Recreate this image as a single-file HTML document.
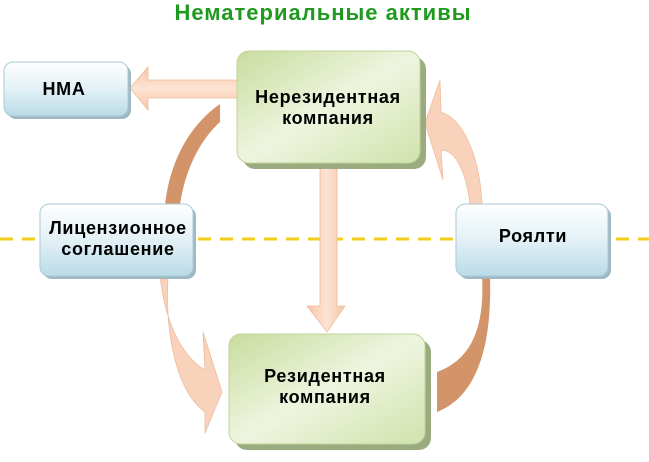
<!DOCTYPE html>
<html><head><meta charset="utf-8"><style>
body{margin:0;background:#fff;width:649px;height:457px;overflow:hidden}
svg text{font-family:"Liberation Sans",sans-serif;font-weight:bold}
</style></head><body>
<svg width="649" height="457" viewBox="0 0 649 457" xmlns="http://www.w3.org/2000/svg">
<defs>
<linearGradient id="bl" x1="0" y1="0" x2="0" y2="1"><stop offset="0" stop-color="#ffffff"/><stop offset="0.5" stop-color="#e3f1f6"/><stop offset="1" stop-color="#b9dbe7"/></linearGradient>
<linearGradient id="gr" x1="0" y1="0" x2="1" y2="1"><stop offset="0" stop-color="#c9dc9e"/><stop offset="0.5" stop-color="#eef5df"/><stop offset="1" stop-color="#d0e2ac"/></linearGradient>
<linearGradient id="pe" x1="0" y1="0" x2="0" y2="1"><stop offset="0" stop-color="#f6c6a6"/><stop offset="0.5" stop-color="#fde3d3"/><stop offset="1" stop-color="#f6c6a6"/></linearGradient>
<linearGradient id="pv" x1="0" y1="0" x2="1" y2="0"><stop offset="0" stop-color="#f6c6a6"/><stop offset="0.5" stop-color="#fde3d3"/><stop offset="1" stop-color="#f6c6a6"/></linearGradient>
</defs>
<text x="323" y="20" font-size="22" letter-spacing="1" fill="#1f9a1f" text-anchor="middle">Нематериальные активы</text>
<line x1="0" y1="239" x2="649" y2="239" stroke="#f2cf1e" stroke-width="3" stroke-dasharray="13,9"/>
<path d="M165 205 C170 160 190 125 220 104 L220 122 C200 140 185 170 180 205 Z" fill="#d4946a"/>
<path d="M160 276 C165 320 180 355 205 370 L203 332 L222 392 L205 433 L205 412 C175 390 165 330 168 276 Z" fill="#f8d2ba" stroke="#eebc9c" stroke-width="0.8"/>
<path d="M482 276 C485 330 470 360 437 372 L437 412 C480 395 492 340 490 276 Z" fill="#d4946a"/>
<path d="M470 204 C466 170 455 150 441 150 L443 180 L425 123 L440 80 L441 112 C465 120 480 160 482 204 Z" fill="#f8d2ba" stroke="#eebc9c" stroke-width="0.8"/>
<path d="M237 80 L148 80 L148 67 L130 88 L148 110 L148 98 L237 98 Z" fill="url(#pe)" stroke="#eebc9c" stroke-width="0.8"/>
<path d="M320 163 L320 306 L307 306 L327 332 L345 306 L337 306 L337 163 Z" fill="url(#pv)" stroke="#eebc9c" stroke-width="0.8"/>
<rect x="7" y="65" width="124" height="54" rx="9" fill="#9fb8c2"/>
<rect x="4" y="62" width="124" height="54" rx="9" fill="url(#bl)" stroke="#a8cad6"/>
<text x="64" y="95" font-size="18" letter-spacing="0.7" text-anchor="middle">НМА</text>
<rect x="243" y="57" width="183" height="112" rx="12" fill="#9aab80"/>
<rect x="237" y="51" width="183" height="112" rx="12" fill="url(#gr)" stroke="#c0d49a"/>
<text x="328" y="103" font-size="18" letter-spacing="0.7" text-anchor="middle">Нерезидентная</text>
<text x="328" y="124" font-size="18" letter-spacing="0.7" text-anchor="middle">компания</text>
<rect x="43" y="207" width="153" height="72" rx="9" fill="#9fb8c2"/>
<rect x="40" y="204" width="153" height="72" rx="9" fill="url(#bl)" stroke="#a8cad6"/>
<text x="118" y="234" font-size="18" letter-spacing="0.7" text-anchor="middle">Лицензионное</text>
<text x="118" y="255" font-size="18" letter-spacing="0.7" text-anchor="middle">соглашение</text>
<rect x="459" y="207" width="152" height="72" rx="9" fill="#9fb8c2"/>
<rect x="456" y="204" width="152" height="72" rx="9" fill="url(#bl)" stroke="#a8cad6"/>
<text x="533" y="242" font-size="18" letter-spacing="0.7" text-anchor="middle">Роялти</text>
<rect x="235" y="340" width="196" height="110" rx="12" fill="#9aab80"/>
<rect x="229" y="334" width="196" height="110" rx="12" fill="url(#gr)" stroke="#c0d49a"/>
<text x="325" y="382" font-size="18" letter-spacing="0.7" text-anchor="middle">Резидентная</text>
<text x="325" y="403" font-size="18" letter-spacing="0.7" text-anchor="middle">компания</text>
</svg>
</body></html>
